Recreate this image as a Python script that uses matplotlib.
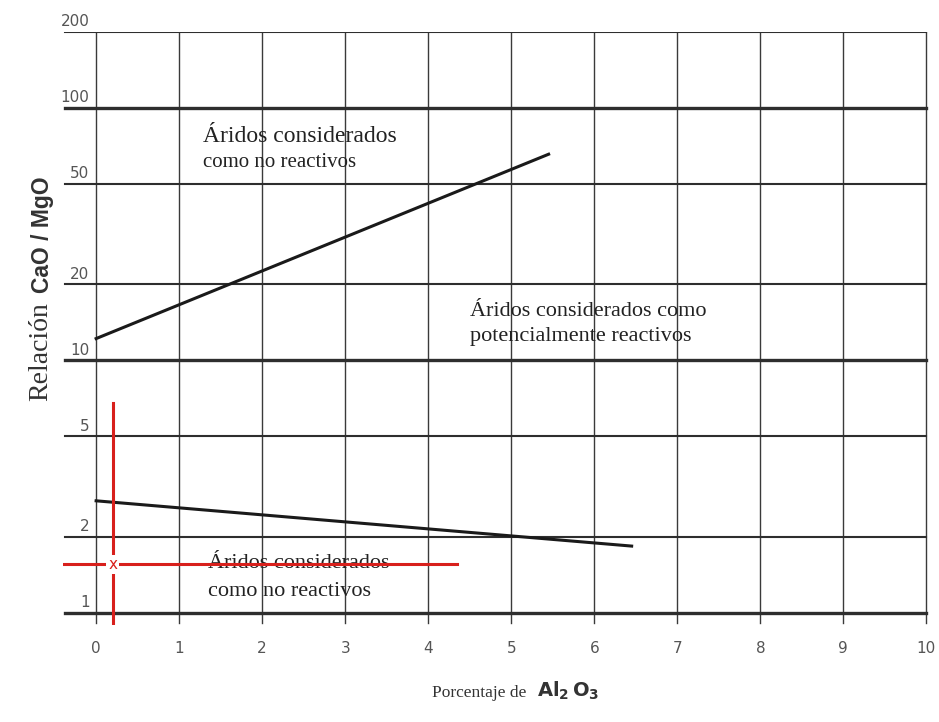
import matplotlib.pyplot as plt

# grid / axis values
x_ticks = list(range(0, 11))
y_ticks = [1, 2, 5, 10, 20, 50, 100, 200]
y_heavy = [1, 10, 100]

# boundary lines (Al2O3 %, CaO/MgO)
upper_x = [0, 5.45]
upper_y = [12.2, 65.5]
lower_x = [0, 6.45]
lower_y = [2.78, 1.84]

# sample point and its red guide lines
sample_x = 0.2
sample_y = 1.56
guide_v = [0.9, 6.8]
guide_h = [-0.42, 4.35]

plt.rcParams['mathtext.fontset'] = 'dejavusans'
serif = 'Liberation Serif'

fig = plt.figure(figsize=(9.39, 7.22), dpi=100)
ax = fig.add_axes([0.067, 0.135, 0.924, 0.821])
ax.set_yscale('log')
ax.set_xlim(-0.4, 10.05)
ax.set_ylim(0.9, 200)
for s in ax.spines.values():
    s.set_visible(False)
ax.set_xticks([])
ax.set_yticks([])
ax.minorticks_off()

# grid
for xv in x_ticks:
    ax.plot([xv, xv], [0.91, 200], color='#3a3a3a', lw=1.0, zorder=1)
for yv in y_ticks:
    lw = 2.4 if yv in y_heavy else 1.5
    ax.plot([-0.38, 10], [yv, yv], color='#2e2e2e', lw=lw, zorder=1)
    ax.annotate(str(yv), (-0.08, yv), xytext=(0, 2), textcoords='offset points',
                ha='right', va='bottom', fontsize=11, color='#555555')

for xv in x_ticks:
    ax.annotate(str(xv), (xv, 0.9), xytext=(0, -12), textcoords='offset points',
                ha='center', va='top', fontsize=11, color='#555555')

# boundary curves
ax.plot(upper_x, upper_y, color='#1a1a1a', lw=2.2, zorder=3)
ax.plot(lower_x, lower_y, color='#1a1a1a', lw=2.2, zorder=3)

# region labels
ax.text(1.29, 77, 'Áridos considerados', fontsize=17, family=serif, color='#222222', va='center')
ax.text(1.29, 61, 'como no reactivos', fontsize=15, family=serif, color='#222222', va='center')
ax.text(4.5, 15.6, 'Áridos considerados como', fontsize=16, family=serif, color='#222222', va='center')
ax.text(4.5, 12.4, 'potencialmente reactivos', fontsize=16, family=serif, color='#222222', va='center')
ax.text(1.35, 1.57, 'Áridos considerados', fontsize=16, family=serif, color='#222222', va='center', zorder=2)
ax.text(1.35, 1.22, 'como no reactivos', fontsize=16, family=serif, color='#222222', va='center')

# red guides
red = '#d8201c'
ax.plot([sample_x, sample_x], guide_v, color=red, lw=2.2, zorder=4)
ax.plot(guide_h, [sample_y, sample_y], color=red, lw=2.2, zorder=4)
ax.text(sample_x, sample_y, 'x', color=red, fontsize=11, ha='center', va='center', zorder=5,
        bbox=dict(facecolor='white', edgecolor='none', pad=1.5))

# axis titles
fig.text(0.043, 0.513, 'Relación', rotation=90, fontsize=20, family=serif,
         color='#333333', ha='center', va='center')
fig.text(0.045, 0.675, 'CaO / MgO', rotation=90, fontsize=16.5, family='Liberation Sans',
         weight='bold', color='#333333', ha='center', va='center')
fig.text(0.51, 0.04, 'Porcentaje de', fontsize=12.5, family=serif,
         color='#333333', ha='center', va='center')
fig.text(0.572, 0.043, r'$\mathbf{Al_2\,O_3}$', fontsize=14, color='#333333',
         ha='left', va='center')

fig.savefig('out.png', dpi=100, facecolor='white')
